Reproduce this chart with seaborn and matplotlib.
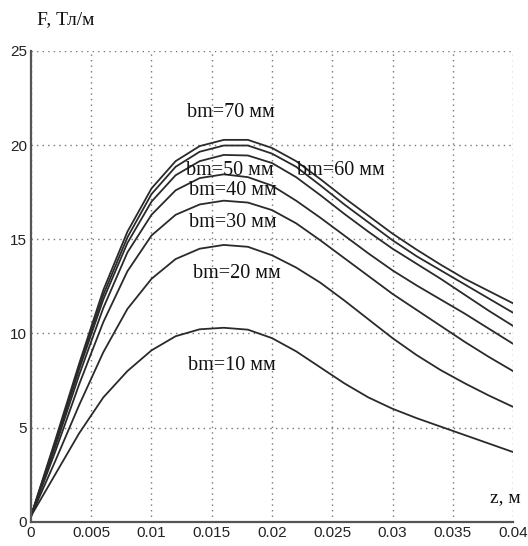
import numpy as np
import pandas as pd
import matplotlib
matplotlib.use("Agg")
import matplotlib.pyplot as plt
import seaborn as sns

# z coordinate, m
z = [0.0, 0.002, 0.004, 0.006, 0.008, 0.010, 0.012, 0.014, 0.016, 0.018, 0.020,
     0.022, 0.024, 0.026, 0.028, 0.030, 0.032, 0.034, 0.036, 0.038, 0.040]

# F, Tl/m
bm10 = [0.3, 2.5, 4.7, 6.6, 8.0, 9.1, 9.85, 10.22, 10.3, 10.2, 9.75,
        9.05, 8.2, 7.35, 6.6, 6.0, 5.5, 5.05, 4.6, 4.15, 3.7]
bm20 = [0.3, 3.2, 6.2, 9.0, 11.3, 12.9, 13.95, 14.5, 14.7, 14.6, 14.15,
        13.5, 12.7, 11.75, 10.75, 9.75, 8.85, 8.05, 7.35, 6.7, 6.1]
bm30 = [0.3, 3.7, 7.3, 10.6, 13.3, 15.2, 16.3, 16.85, 17.05, 16.95, 16.55,
        15.85, 14.95, 14.0, 13.05, 12.1, 11.25, 10.4, 9.55, 8.75, 8.0]
bm40 = [0.3, 3.95, 7.8, 11.35, 14.3, 16.3, 17.6, 18.25, 18.45, 18.3, 17.85,
        17.05, 16.15, 15.2, 14.25, 13.35, 12.55, 11.8, 11.05, 10.25, 9.45]
bm50 = [0.3, 4.1, 8.1, 11.8, 14.8, 17.0, 18.4, 19.15, 19.48, 19.45, 19.05,
        18.3, 17.35, 16.35, 15.4, 14.5, 13.7, 12.9, 12.05, 11.2, 10.4]
bm60 = [0.3, 4.2, 8.25, 12.05, 15.1, 17.4, 18.85, 19.65, 19.98, 19.98, 19.55,
        18.85, 17.87, 16.85, 15.9, 14.95, 14.1, 13.35, 12.6, 11.85, 11.1]
bm70 = [0.3, 4.3, 8.4, 12.3, 15.4, 17.7, 19.15, 19.95, 20.28, 20.28, 19.85,
        19.15, 18.2, 17.2, 16.25, 15.3, 14.45, 13.65, 12.9, 12.25, 11.6]

series = {"bm=10 мм": bm10, "bm=20 мм": bm20, "bm=30 мм": bm30, "bm=40 мм": bm40,
          "bm=50 мм": bm50, "bm=60 мм": bm60, "bm=70 мм": bm70}

# label positions (z, F) in data units
label_pos = {"bm=70 мм": (0.01295, 21.75), "bm=50 мм": (0.01285, 18.66),
             "bm=60 мм": (0.02205, 18.66), "bm=40 мм": (0.01315, 17.6),
             "bm=30 мм": (0.01315, 15.9), "bm=20 мм": (0.01345, 13.2),
             "bm=10 мм": (0.01300, 8.3)}

rows = []
for name, vals in series.items():
    for zz, ff in zip(z, vals):
        rows.append({"z": zz, "F": ff, "bm": name})
df = pd.DataFrame(rows)

sns.set_style("white")
plt.rcParams["font.family"] = ["Liberation Sans Narrow", "Liberation Sans", "DejaVu Sans"]

fig = plt.figure(figsize=(5.28, 5.46), dpi=100)
ax = fig.add_axes([0.0587, 0.0445, 0.9129, 0.8621])

sns.lineplot(data=df, x="z", y="F", units="bm", estimator=None,
             color="#2a2a2a", linewidth=1.3, ax=ax, legend=False)

ax.set_xlim(0, 0.04)
ax.set_ylim(0, 25)
ax.set_xticks(np.arange(0, 0.0401, 0.005))
ax.set_xticklabels(["0", "0.005", "0.01", "0.015", "0.02", "0.025", "0.03", "0.035", "0.04"])
ax.set_yticks([0, 5, 10, 15, 20, 25])
ax.set_xlabel("")
ax.set_ylabel("")
ax.grid(True, linestyle=(0, (1, 3)), color="#777777", linewidth=1.0)
ax.tick_params(direction="in", length=4, width=1.2, colors="#444444",
               labelcolor="#222222", labelsize=11, pad=3)
for s in ["top", "right"]:
    ax.spines[s].set_visible(False)
for s in ["left", "bottom"]:
    ax.spines[s].set_color("#555555")
    ax.spines[s].set_linewidth(1.6)

serif = ["Liberation Serif", "DejaVu Serif"]
for name, (tx, ty) in label_pos.items():
    ax.text(tx, ty, name, family=serif, fontsize=14.5, ha="left", va="center", color="#111111")

fig.text(37 / 528, 1 - 20 / 546, "F, Тл/м", family=serif, fontsize=14, ha="left", va="center", color="#111111")
ax.text(0.03805, 1.3, "z, м", family=serif, fontsize=14, ha="left", va="center", color="#111111")

fig.savefig("out.png", dpi=100)
